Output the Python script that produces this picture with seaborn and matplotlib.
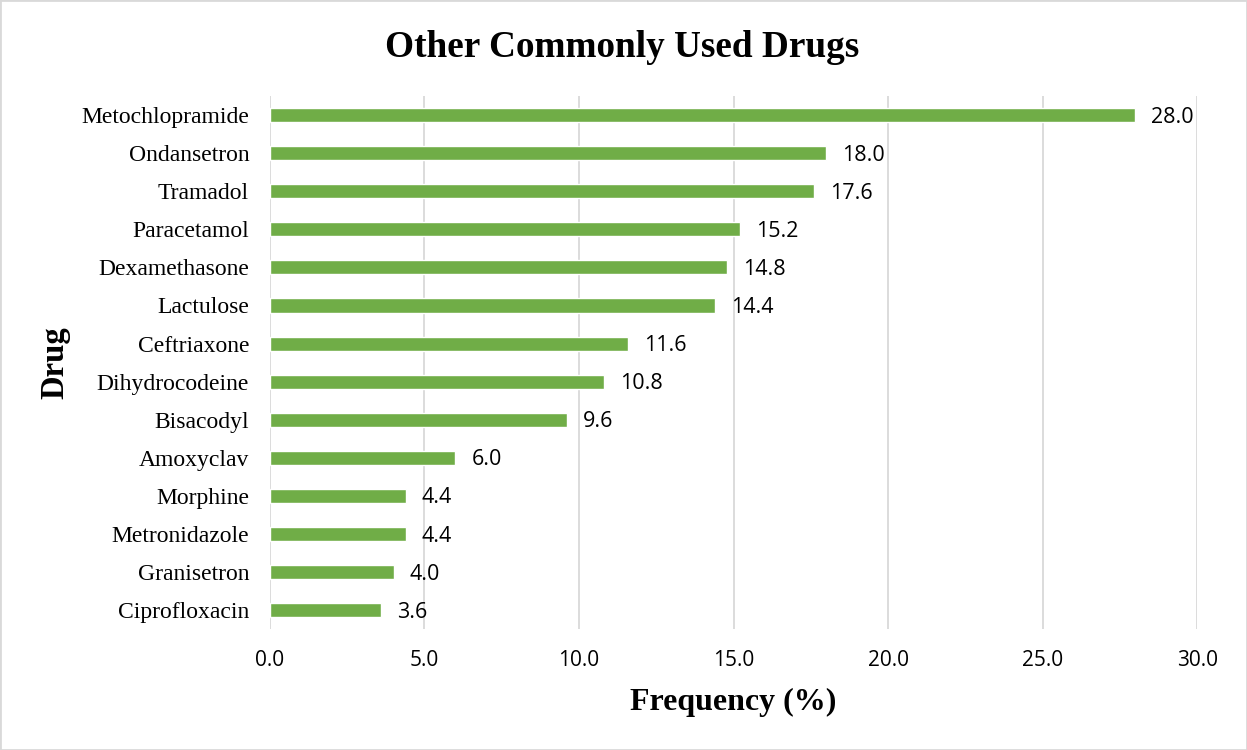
import pandas as pd
import seaborn as sns
import matplotlib.pyplot as plt
from matplotlib.patches import Rectangle

sns.set_theme(style="white")

# dados
drugs = ["Metochlopramide", "Ondansetron", "Tramadol", "Paracetamol", "Dexamethasone",
         "Lactulose", "Ceftriaxone", "Dihydrocodeine", "Bisacodyl", "Amoxyclav",
         "Morphine", "Metronidazole", "Granisetron", "Ciprofloxacin"]
freq = [28.0, 18.0, 17.6, 15.2, 14.8, 14.4, 11.6, 10.8, 9.6, 6.0, 4.4, 4.4, 4.0, 3.6]
xticks = [0, 5, 10, 15, 20, 25, 30]

df = pd.DataFrame({"drug": drugs, "freq": freq})

serif = "Liberation Serif"
sans = "Open Sans"

fig = plt.figure(figsize=(12.47, 7.5), dpi=100)
ax = fig.add_axes([0.2165, 0.161, 0.7435, 0.711])

sns.barplot(data=df, x="freq", y="drug", color="#70AD47", width=0.37,
            saturation=1, ax=ax)

ax.set_xlim(0, 30)
ax.set_ylim(13.5, -0.5)
ax.set_xticks(xticks)
ax.set_xticklabels([f"{v:.1f}" for v in xticks], fontfamily=sans, fontsize=15, color="black")
ax.set_yticklabels(drugs, fontfamily=serif, fontsize=17, color="black")
ax.tick_params(axis="x", pad=15, length=0)
ax.tick_params(axis="y", pad=15, length=0)
ax.grid(axis="x", color="#D9D9D9", linewidth=1.3)
ax.set_axisbelow(True)
for s in ax.spines.values():
    s.set_visible(False)

for i, v in enumerate(freq):
    ax.annotate(f"{v:.1f}", (v, i), xytext=(16, -2), textcoords="offset pixels",
                va="center", ha="left", fontfamily=sans, fontsize=15.5, color="black")

ax.set_xlabel("Frequency (%)", fontfamily=serif, fontsize=23, fontweight="bold",
              color="black", va="center")
ax.xaxis.set_label_coords(0.5, -0.137)
ax.set_ylabel("Drug", fontfamily=serif, fontsize=23.5, fontweight="bold",
              color="black", va="center")
ax.yaxis.set_label_coords(-0.232, 0.5)
fig.suptitle("Other Commonly Used Drugs", fontfamily=serif, fontsize=26.8,
             fontweight="bold", color="black", x=0.499, y=0.937, va="center")

fig.patches.append(Rectangle((0, 0), 1, 1, transform=fig.transFigure, fill=False,
                             edgecolor="#D9D9D9", linewidth=2))

plt.savefig("out.png", dpi=100)
plt.close()
